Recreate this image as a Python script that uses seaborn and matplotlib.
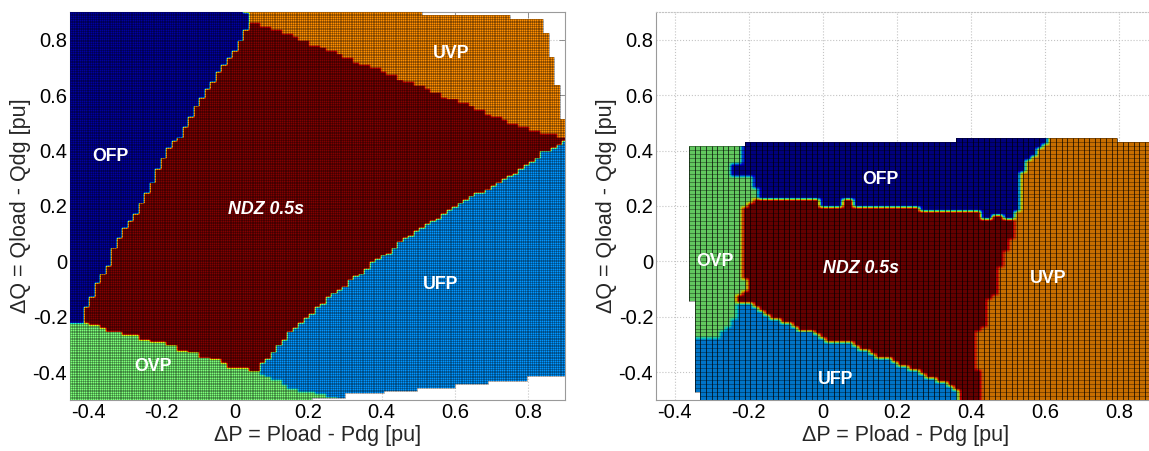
import numpy as np
import matplotlib
matplotlib.use("Agg")
import matplotlib.pyplot as plt
from matplotlib.path import Path
from matplotlib.colors import ListedColormap
import seaborn as sns

# ---------------------------------------------------------------- data
# region codes = position on the jet colour map
region_names = ["OFP", "UFP", "OVP", "UVP", "NDZ"]
region_codes = [0.03, 0.27, 0.50, 0.76, 1.0]
code = dict(zip(region_names, region_codes))

tick_values = [-0.4, -0.2, 0.0, 0.2, 0.4, 0.6, 0.8]

# ---- left panel: region boundaries (dP, dQ)
left_ofp_ndz_p = [0.043, -0.004, -0.058, -0.094, -0.140, -0.184, -0.222, -0.265, -0.320, -0.347, -0.374, -0.407, -0.413]
left_ofp_ndz_q = [0.859, 0.751, 0.654, 0.582, 0.463, 0.402, 0.294, 0.175, 0.077, -0.020, -0.078, -0.175, -0.218]
left_uvp_ndz_p = [0.043, 0.070, 0.253, 0.433, 0.615, 0.798, 0.91]
left_uvp_ndz_q = [0.859, 0.852, 0.762, 0.665, 0.571, 0.474, 0.441]
left_ndz_ufp_p = [0.91, 0.842, 0.798, 0.706, 0.615, 0.542, 0.452, 0.343, 0.253, 0.160, 0.106, 0.062]
left_ndz_ufp_q = [0.432, 0.391, 0.340, 0.268, 0.211, 0.149, 0.066, -0.042, -0.139, -0.247, -0.330, -0.391]
left_ndz_ovp_p = [0.062, -0.004, -0.075, -0.156, -0.238, -0.339, -0.413]
left_ndz_ovp_q = [-0.391, -0.380, -0.348, -0.312, -0.283, -0.254, -0.218]
left_ovp_ufp_p = [0.062, 0.079, 0.116, 0.152, 0.198, 0.234, 0.269, 0.30]
left_ovp_ufp_q = [-0.391, -0.416, -0.434, -0.452, -0.470, -0.481, -0.492, -0.51]
left_domain_p = [-0.46, 0.443, 0.443, 0.561, 0.697, 0.815, 0.842, 0.850, 0.861, 0.869, 0.877, 0.883,
                 0.891, 0.896, 0.92, 0.92, 0.896, 0.752, 0.569, 0.361, 0.187, 0.187, -0.46]
left_domain_q = [0.92, 0.92, 0.894, 0.888, 0.881, 0.874, 0.863, 0.798, 0.744, 0.682, 0.636, 0.575,
                 0.528, 0.481, 0.47, -0.409, -0.409, -0.427, -0.451, -0.477, -0.499, -0.52, -0.52]
left_label_text = ["OFP", "NDZ 0.5s", "UVP", "UFP", "OVP"]
left_label_p = [-0.339, 0.084, 0.589, 0.561, -0.225]
left_label_q = [0.377, 0.186, 0.751, -0.085, -0.380]

# ---- right panel
right_ndz_top_p = [-0.183, -0.013, -0.013, 0.045, 0.045, 0.08, 0.08, 0.26, 0.26, 0.425, 0.425, 0.45, 0.45, 0.49, 0.49, 0.515]
right_ndz_top_q = [0.222, 0.222, 0.196, 0.196, 0.228, 0.228, 0.2, 0.2, 0.175, 0.175, 0.155, 0.155, 0.167, 0.167, 0.15, 0.15]
right_ndz_uvp_p = [0.515, 0.506, 0.488, 0.475, 0.465, 0.443, 0.434, 0.416, 0.42, 0.425, 0.375]
right_ndz_uvp_q = [0.114, 0.066, 0.018, -0.05, -0.12, -0.138, -0.246, -0.258, -0.39, -0.51, -0.51]
right_ndz_ufp_p = [0.371, 0.362, 0.335, 0.317, 0.281, 0.245, 0.209, 0.191, 0.155, 0.136, 0.096, 0.082, 0.019,
                   -0.008, -0.026, -0.053, -0.08, -0.089, -0.134, -0.156, -0.174, -0.197, -0.224]
right_ndz_ufp_q = [-0.486, -0.462, -0.444, -0.432, -0.414, -0.39, -0.372, -0.354, -0.348, -0.33, -0.324, -0.30, -0.288,
                   -0.27, -0.252, -0.246, -0.234, -0.216, -0.21, -0.186, -0.162, -0.15, -0.144]
right_ndz_ovp_p = [-0.235, -0.235, -0.2, -0.2, -0.215, -0.215, -0.197]
right_ndz_ovp_q = [-0.14, -0.12, -0.1, -0.07, -0.06, 0.186, 0.204]
right_ofp_p = [-0.215, 0.62, 0.614, 0.605, 0.587, 0.569, 0.551, 0.533, 0.53, 0.51,
               -0.175, -0.175, -0.19, -0.19, -0.255, -0.255, -0.215]
right_ofp_q = [0.47, 0.47, 0.45, 0.438, 0.414, 0.378, 0.355, 0.294, 0.2, 0.15,
               0.15, 0.26, 0.265, 0.305, 0.31, 0.355, 0.36]
right_ovp_ufp_p = [-0.224, -0.233, -0.251, -0.287, -0.46]
right_ovp_ufp_q = [-0.15, -0.186, -0.234, -0.276, -0.279]
right_domain_p = [-0.358, -0.215, -0.215, 0.045, 0.045, 0.2, 0.2, 0.364, 0.364, 0.53, 0.53, 0.72, 0.72, 0.80,
                  0.80, 0.857, 0.857, 1.01, 1.01, -0.33, -0.33, -0.345, -0.345, -0.358]
right_domain_q = [0.418, 0.418, 0.427, 0.427, 0.432, 0.432, 0.436, 0.436, 0.441, 0.441, 0.448, 0.448, 0.441, 0.441,
                  0.435, 0.435, 0.429, 0.429, -0.51, -0.51, -0.474, -0.474, -0.135, -0.135]
right_label_text = ["OFP", "NDZ 0.5s", "UVP", "OVP", "UFP"]
right_label_p = [0.156, 0.103, 0.609, -0.292, 0.036]
right_label_q = [0.294, -0.024, -0.060, 0.0, -0.426]


def pts(p, q):
    return list(zip(p, q))


# polygons of each panel
L_ndz = (pts(left_uvp_ndz_p, left_uvp_ndz_q) + pts(left_ndz_ufp_p, left_ndz_ufp_q)
         + pts(left_ndz_ovp_p, left_ndz_ovp_q) + pts(left_ofp_ndz_p[::-1], left_ofp_ndz_q[::-1]))
L_ofp = [(-0.46, 0.92), (0.016, 0.92)] + pts(left_ofp_ndz_p, left_ofp_ndz_q) + [(-0.46, -0.222)]
L_uvp = [(0.016, 0.92)] + pts(left_uvp_ndz_p, left_uvp_ndz_q) + [(0.92, 0.441), (0.92, 0.92)]
L_ufp = [(0.92, 0.432)] + pts(left_ndz_ufp_p, left_ndz_ufp_q) + pts(left_ovp_ufp_p, left_ovp_ufp_q) + [(0.92, -0.51)]
L_dom = pts(left_domain_p, left_domain_q)

R_ndz = (pts(right_ndz_top_p, right_ndz_top_q) + pts(right_ndz_uvp_p, right_ndz_uvp_q)
         + pts(right_ndz_ufp_p, right_ndz_ufp_q) + pts(right_ndz_ovp_p, right_ndz_ovp_q))
R_ofp = pts(right_ofp_p, right_ofp_q)
R_ufp = (pts(right_ndz_ufp_p[::-1], right_ndz_ufp_q[::-1]) + [(0.375, -0.51), (-0.46, -0.51)]
         + pts(right_ovp_ufp_p[::-1], right_ovp_ufp_q[::-1]))
R_dom = pts(right_domain_p, right_domain_q)


def classify(P, Q, polys, codes, split_p):
    xy = np.column_stack([P.ravel(), Q.ravel()])
    out = np.full(len(xy), np.nan)
    for poly, c in zip(polys, codes):
        inside = Path(poly).contains_points(xy) & np.isnan(out)
        out[inside] = c
    rest = np.isnan(out)
    out[rest] = np.where(xy[rest, 0] < split_p, code["OVP"], code["UVP"])
    return out.reshape(P.shape)


def in_domain(P, Q, poly):
    xy = np.column_stack([P.ravel(), Q.ravel()])
    return Path(poly).contains_points(xy).reshape(P.shape)


def subdivide(V, k):
    nq, npn = V.shape
    S = np.empty(((nq - 1) * k, (npn - 1) * k))
    t = (np.arange(k) + 0.5) / k
    V00, V01, V10, V11 = V[:-1, :-1], V[:-1, 1:], V[1:, :-1], V[1:, 1:]
    for a, ta in enumerate(t):
        for b, tb in enumerate(t):
            S[a::k, b::k] = ((1 - ta) * (1 - tb) * V00 + (1 - ta) * tb * V01
                             + ta * (1 - tb) * V10 + ta * tb * V11)
    return S


def draw_map(ax, pe, qe, V, ok, k, cmap, vkw, hkw):
    S = subdivide(V, k)
    mask = np.kron(~ok, np.ones((k, k), bool))
    ps = np.linspace(pe[0], pe[-1], (len(pe) - 1) * k + 1)
    qs = np.linspace(qe[0], qe[-1], (len(qe) - 1) * k + 1)
    ax.pcolormesh(ps, qs, np.ma.array(S, mask=mask), cmap=cmap, vmin=0, vmax=1,
                  shading="flat", zorder=3)
    xs, y0, y1 = [], [], []
    for j, x in enumerate(pe):
        col = ok[:, max(j - 1, 0):j + 1].any(axis=1)
        if col.any():
            r = np.where(col)[0]
            xs.append(x); y0.append(qe[r[0]]); y1.append(qe[r[-1] + 1])
    ax.vlines(xs, y0, y1, zorder=4, **vkw)
    ys, x0, x1 = [], [], []
    for i, y in enumerate(qe):
        row = ok[max(i - 1, 0):i + 1, :].any(axis=0)
        if row.any():
            c = np.where(row)[0]
            ys.append(y); x0.append(pe[c[0]]); x1.append(pe[c[-1] + 1])
    ax.hlines(ys, x0, x1, zorder=4, **hkw)


# ---------------------------------------------------------------- style
sns.set_theme(style="white")
plt.rcParams["font.family"] = ["Liberation Sans", "DejaVu Sans"]
plt.rcParams["axes.unicode_minus"] = False

jet = plt.get_cmap("jet")
dark = jet(np.linspace(0, 1, 256))
dark[:, :3] *= 0.78
jet_dark = ListedColormap(dark)

W, H = 1149, 451
fig = plt.figure(figsize=(W / 100, H / 100), dpi=100)
ax1 = fig.add_axes([70 / W, 51 / H, 495 / W, 388 / H])
ax2 = fig.add_axes([656 / W, 51 / H, 500 / W, 388 / H])

# left panel grid (fine mesh, staircase from coarser sampling)
pe = np.linspace(-0.45, 0.9, 271)
qe = np.linspace(-0.5, 0.9, 225)
PP, QQ = np.meshgrid(pe, qe)
snap = lambda v, o, s: o + np.floor((v - o) / s + 0.5) * s
V1 = classify(snap(PP, -0.45, 0.015), snap(QQ, -0.5, 0.0125),
              [L_ndz, L_ofp, L_uvp, L_ufp],
              [code["NDZ"], code["OFP"], code["UVP"], code["UFP"]], 2.0)
pc = 0.5 * (pe[:-1] + pe[1:]); qc = 0.5 * (qe[:-1] + qe[1:])
PC, QC = np.meshgrid(pc, qc)
ok1 = in_domain(snap(PC, -0.4425, 0.015), snap(QC, -0.496875, 0.0125), L_dom)
lk = dict(colors="black", alpha=0.45, linewidth=0.45)
draw_map(ax1, pe, qe, V1, ok1, 2, jet, lk, lk)

# right panel grid
pe2 = np.linspace(-0.45, 1.005, 98)
qe2 = np.linspace(-0.5, 0.46, 68)
PP2, QQ2 = np.meshgrid(pe2, qe2)
V2 = classify(PP2, QQ2, [R_ndz, R_ofp, R_ufp],
              [code["NDZ"], code["OFP"], code["UFP"]], 0.1)
pc2 = 0.5 * (pe2[:-1] + pe2[1:]); qc2 = 0.5 * (qe2[:-1] + qe2[1:])
PC2, QC2 = np.meshgrid(pc2, qc2)
ok2 = in_domain(PC2, QC2, R_dom)
draw_map(ax2, pe2, qe2, V2, ok2, 4, jet_dark,
         dict(colors="black", alpha=0.7, linewidth=0.7),
         dict(colors="black", alpha=0.5, linewidth=0.5))

fmt = lambda v: "0" if abs(v) < 1e-9 else f"{v:g}"
for ax, labs in ((ax1, zip(left_label_text, left_label_p, left_label_q)),
                 (ax2, zip(right_label_text, right_label_p, right_label_q))):
    ax.set_xlim(-0.45, 0.9)
    ax.set_ylim(-0.5, 0.9)
    ax.set_xticks(tick_values)
    ax.set_xticklabels([fmt(v) for v in tick_values])
    ax.set_yticks(tick_values)
    ax.set_yticklabels([fmt(v) for v in tick_values])
    ax.grid(True, linestyle=":", color="#c4c4c4", linewidth=0.8)
    ax.set_axisbelow(True)
    for s in ax.spines.values():
        s.set_color("#9a9a9a")
        s.set_linewidth(0.8)
        s.set_zorder(2)
    ax.tick_params(direction="in", length=4, width=0.6, color="#808080",
                   labelsize=14.5, pad=2, labelcolor="black")
    ax.set_xlabel("ΔP = Pload - Pdg [pu]", fontsize=15.5, labelpad=2)
    ax.set_ylabel("ΔQ = Qload - Qdg [pu]", fontsize=15.5, labelpad=1)
    for txt, x, y in labs:
        ax.text(x, y, txt, color="white", fontsize=12.8, fontweight="bold",
                style="italic" if txt.startswith("NDZ") else "normal",
                ha="center", va="center", zorder=6)

ax1.tick_params(top=True, right=True)
ax2.spines["top"].set_linestyle(":")
ax2.spines["top"].set_color("#c4c4c4")
ax2.spines["right"].set_visible(False)

fig.savefig("out.png", dpi=100)
